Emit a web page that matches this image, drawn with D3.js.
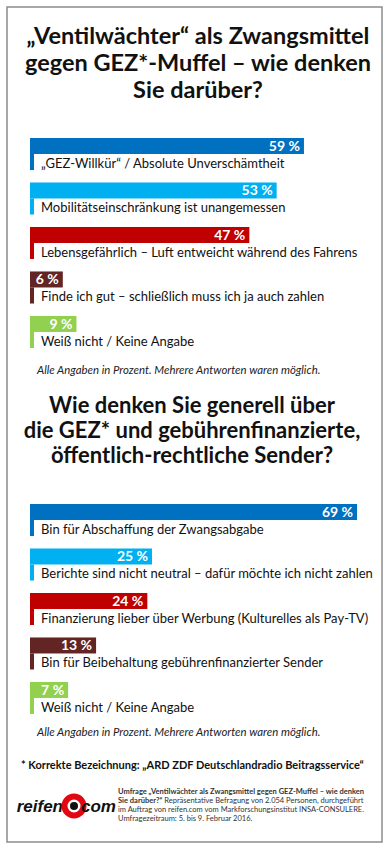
<!DOCTYPE html>
<html>
<head>
<meta charset="utf-8">
<script src="https://cdn.jsdelivr.net/npm/d3@7"></script>
<style>
    body { margin: 0; background: #fff; }
    text { font-family: Lato, "Open Sans", sans-serif; }
</style>
</head>
<body>
<div class="js-canvas"></div>
<script>
'use strict';

// --- data ---
const title1 = ['„Ventilwächter“ als Zwangsmittel', 'gegen GEZ*-Muffel – wie denken', 'Sie darüber?'];
const q1Labels = [
    '„GEZ-Willkür“ / Absolute Unverschämtheit',
    'Mobilitätseinschränkung ist unangemessen',
    'Lebensgefährlich – Luft entweicht während des Fahrens',
    'Finde ich gut – schließlich muss ich ja auch zahlen',
    'Weiß nicht / Keine Angabe'
];
const q1Values = [59, 53, 47, 6, 9];

const title2 = ['Wie denken Sie generell über', 'die GEZ* und gebührenfinanzierte,', 'öffentlich-rechtliche Sender?'];
const q2Labels = [
    'Bin für Abschaffung der Zwangsabgabe',
    'Berichte sind nicht neutral – dafür möchte ich nicht zahlen',
    'Finanzierung lieber über Werbung (Kulturelles als Pay-TV)',
    'Bin für Beibehaltung gebührenfinanzierter Sender',
    'Weiß nicht / Keine Angabe'
];
const q2Values = [69, 25, 24, 13, 7];

const barColors = ['#0070c0', '#00b0f0', '#c00000', '#632523', '#92d050'];

const footnote = 'Alle Angaben in Prozent. Mehrere Antworten waren möglich.';
const gezNote = '* Korrekte Bezeichnung: „ARD ZDF Deutschlandradio Beitragsservice“';
const surveyLines = [
    [['Umfrage „Ventilwächter als Zwangsmittel gegen GEZ-Muffel – wie denken', true]],
    [['Sie darüber?“', true], [' Repräsentative Befragung von 2.054 Personen, durchgeführt', false]],
    [['im Auftrag von reifen.com vom Markforschungsinstitut INSA-CONSULERE.', false]],
    [['Umfragezeitraum: 5. bis 9. Februar 2016.', false]]
];

const config = {
    width: 389,
    height: 850,
    barLeft: 30,
    stemWidth: 4,
    barHeight: 16
};

const svg = d3.select('.js-canvas')
    .append('svg')
    .attr('width', config.width)
    .attr('height', config.height);

// frame
svg.append('rect')
    .attr('x', 7).attr('y', 7)
    .attr('width', 375).attr('height', 835)
    .attr('fill', '#fff')
    .attr('stroke', '#8c8c8c')
    .attr('stroke-width', 1.5);

const drawTitle = (lines, cx, y0, size, step) => {
    svg.append('text')
        .attr('text-anchor', 'middle')
        .attr('font-weight', 700)
        .attr('font-size', size)
        .attr('fill', '#111')
        .selectAll('tspan')
        .data(lines)
        .join('tspan')
        .attr('x', cx)
        .attr('y', (d, i) => y0 + i * step)
        .text(d => d);
};

const drawBars = (labels, values, top, xMax) => {
    const data = labels.map((label, i) => ({ label, value: values[i], color: barColors[i] }));

    const x = d3.scaleLinear()
        .domain([0, 100])
        .range([config.barLeft + 5.5, config.barLeft + 5.5 + xMax]);

    const y = d3.scaleBand()
        .domain(labels)
        .range([top, top + 210])
        .paddingInner(0.28)
        .paddingOuter(0);

    const g = svg.append('g');
    const rows = g.selectAll('g')
        .data(data)
        .join('g')
        .attr('transform', d => `translate(0, ${y(d.label)})`);

    // top band
    rows.append('rect')
        .attr('x', config.barLeft)
        .attr('y', 0)
        .attr('width', d => x(d.value) - config.barLeft)
        .attr('height', config.barHeight)
        .attr('fill', d => d.color);

    // stem under the band
    rows.append('rect')
        .attr('x', config.barLeft)
        .attr('y', config.barHeight)
        .attr('width', config.stemWidth)
        .attr('height', y.bandwidth() - config.barHeight)
        .attr('fill', d => d.color);

    rows.append('text')
        .attr('x', d => x(d.value) - 4)
        .attr('y', 13)
        .attr('text-anchor', 'end')
        .attr('font-weight', 700)
        .attr('font-size', 14)
        .attr('fill', '#fff')
        .text(d => d.value + ' %');

    rows.append('text')
        .attr('x', config.barLeft + 11)
        .attr('y', 30)
        .attr('font-size', 13)
        .attr('fill', '#111')
        .text(d => d.label);
};

const drawFootnote = (y) => {
    svg.append('text')
        .attr('x', 37)
        .attr('y', y)
        .attr('font-style', 'italic')
        .attr('font-size', 11.4)
        .attr('fill', '#222')
        .text(footnote);
};

drawTitle(title1, 198, 44, 23.5, 27);
drawBars(q1Labels, q1Values, 138, 455);
drawFootnote(374);

drawTitle(title2, 192, 413, 22, 25);
drawBars(q2Labels, q2Values, 504, 466);
drawFootnote(736);

svg.append('text')
    .attr('x', 21)
    .attr('y', 769)
    .attr('font-weight', 700)
    .attr('font-size', 11)
    .attr('fill', '#111')
    .text(gezNote);

// logo
const logo = svg.append('g');
logo.append('text')
    .attr('x', 63)
    .attr('y', 812)
    .attr('text-anchor', 'end')
    .style('font-family', '"Liberation Sans", Arial, sans-serif')
    .attr('font-weight', 700)
    .attr('font-style', 'italic')
    .attr('font-size', 17)
    .attr('fill', '#111')
    .text('reifen');
logo.append('circle')
    .attr('cx', 74).attr('cy', 806).attr('r', 9.5)
    .attr('fill', '#fff')
    .attr('stroke', '#e30613')
    .attr('stroke-width', 6);
logo.append('circle')
    .attr('cx', 74).attr('cy', 806).attr('r', 4)
    .attr('fill', '#111');
logo.append('text')
    .attr('x', 81)
    .attr('y', 812)
    .style('font-family', '"Liberation Sans", Arial, sans-serif')
    .attr('font-weight', 700)
    .attr('font-style', 'italic')
    .attr('font-size', 17)
    .attr('fill', '#111')
    .text('com');

// survey note
const note = svg.append('text')
    .attr('font-size', 7.5)
    .attr('fill', '#333');
surveyLines.forEach((parts, i) => {
    const line = note.append('tspan')
        .attr('x', 118)
        .attr('y', 794 + i * 9);
    parts.forEach(([txt, bold], j) => {
        const t = j === 0 ? line : note.append('tspan');
        t.attr('font-weight', bold ? 700 : 400).text(txt);
    });
});
</script>
</body>
</html>
